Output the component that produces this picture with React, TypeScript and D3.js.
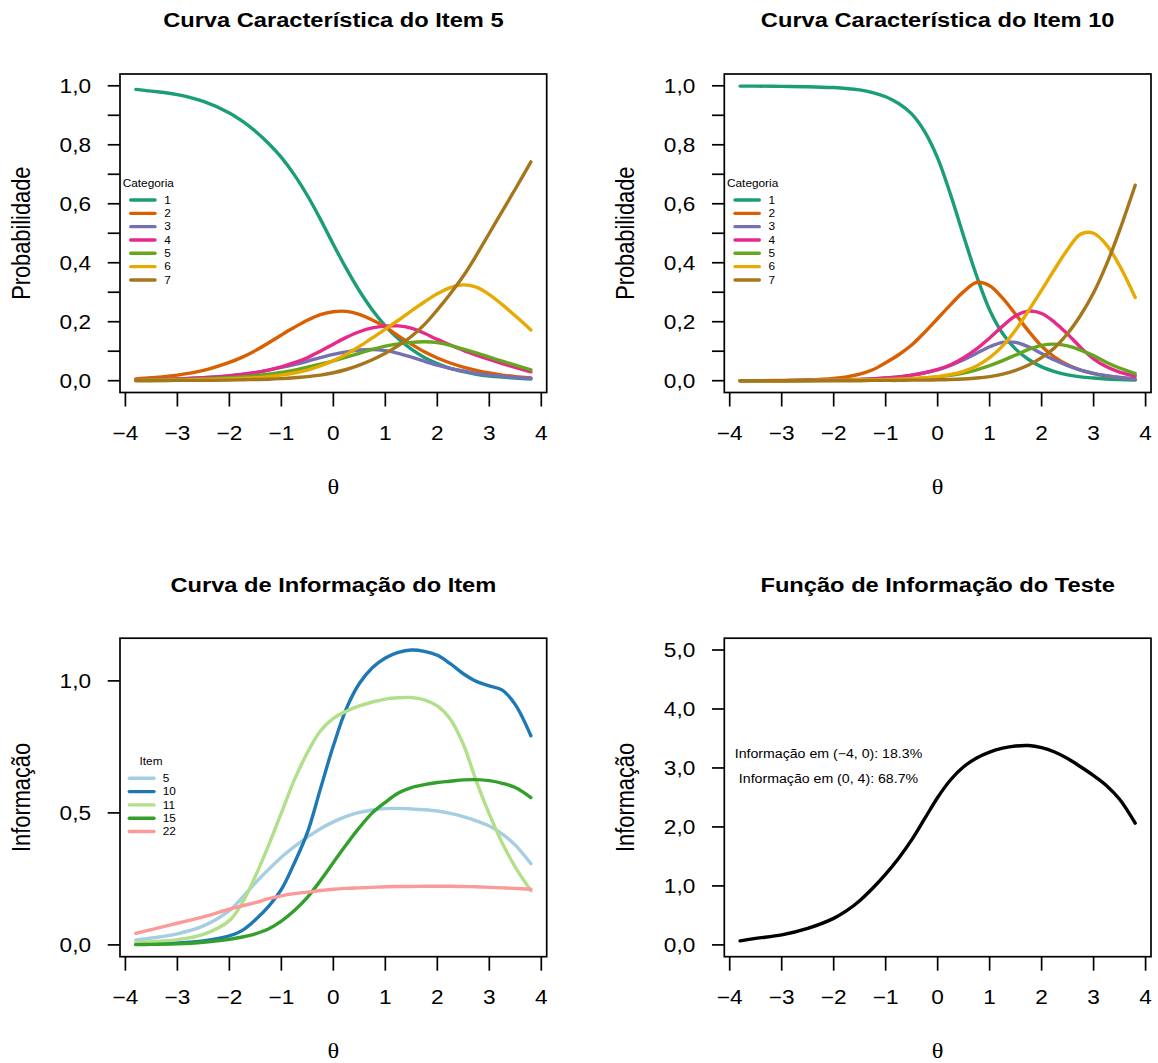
import React from "react";
import * as d3 from "d3";

// the reference is stretched horizontally, text included
const STRETCH = 1.16;
const SANS = "'Liberation Sans', Arial, Helvetica, sans-serif";
const SERIF = "'Liberation Serif', 'DejaVu Serif', serif";

// theta grid used for all read-off values
const theta = [
  -3.8, -3.5, -3, -2.5, -2, -1.75, -1.5, -1.25, -1, -0.75, -0.5, -0.25, 0, 0.25, 0.5, 0.75,
  1, 1.25, 1.5, 1.75, 2, 2.25, 2.5, 2.75, 3, 3.25, 3.5, 3.8,
];

const categories = ["1", "2", "3", "4", "5", "6", "7"];
const dark2 = ["#1B9E77", "#D95F02", "#7570B3", "#E7298A", "#66A61E", "#E6AB02", "#A6761D"];

// item 5, probability of each category
const item5Cat1 = [0.988, 0.982, 0.97, 0.947, 0.908, 0.88, 0.846, 0.805, 0.757, 0.698, 0.628, 0.548, 0.462, 0.38, 0.305, 0.24, 0.186, 0.142, 0.107, 0.079, 0.058, 0.042, 0.031, 0.022, 0.016, 0.012, 0.009, 0.006];
const item5Cat2 = [0.006, 0.01, 0.019, 0.035, 0.062, 0.08, 0.102, 0.128, 0.155, 0.181, 0.205, 0.224, 0.234, 0.235, 0.225, 0.206, 0.182, 0.152, 0.124, 0.098, 0.077, 0.06, 0.046, 0.035, 0.026, 0.019, 0.014, 0.009];
const item5Cat3 = [0.003, 0.004, 0.006, 0.01, 0.017, 0.022, 0.028, 0.036, 0.045, 0.055, 0.066, 0.078, 0.089, 0.098, 0.104, 0.106, 0.102, 0.093, 0.08, 0.066, 0.053, 0.042, 0.033, 0.025, 0.019, 0.015, 0.011, 0.008];
const item5Cat4 = [0.003, 0.004, 0.006, 0.01, 0.016, 0.021, 0.027, 0.036, 0.047, 0.061, 0.078, 0.1, 0.124, 0.147, 0.166, 0.179, 0.185, 0.186, 0.178, 0.161, 0.14, 0.121, 0.103, 0.087, 0.072, 0.058, 0.045, 0.03];
const item5Cat5 = [0.002, 0.003, 0.004, 0.006, 0.01, 0.013, 0.017, 0.022, 0.028, 0.036, 0.046, 0.056, 0.067, 0.08, 0.093, 0.106, 0.117, 0.125, 0.13, 0.132, 0.129, 0.12, 0.107, 0.094, 0.08, 0.066, 0.053, 0.037];
const item5Cat6 = [0.001, 0.001, 0.002, 0.004, 0.006, 0.008, 0.01, 0.014, 0.019, 0.026, 0.036, 0.05, 0.068, 0.09, 0.116, 0.145, 0.175, 0.205, 0.237, 0.267, 0.295, 0.316, 0.325, 0.317, 0.292, 0.258, 0.22, 0.172];
const item5Cat7 = [0.0, 0.0, 0.001, 0.001, 0.002, 0.003, 0.004, 0.005, 0.007, 0.01, 0.014, 0.019, 0.027, 0.038, 0.053, 0.071, 0.093, 0.119, 0.15, 0.19, 0.24, 0.295, 0.355, 0.425, 0.5, 0.575, 0.65, 0.742];

// item 10
const item10Cat1 = [0.999, 0.999, 0.998, 0.997, 0.994, 0.991, 0.986, 0.977, 0.963, 0.94, 0.905, 0.845, 0.755, 0.63, 0.49, 0.355, 0.24, 0.16, 0.107, 0.072, 0.047, 0.031, 0.02, 0.013, 0.009, 0.006, 0.004, 0.002];
const item10Cat2 = [0.0, 0.0, 0.001, 0.003, 0.008, 0.013, 0.022, 0.037, 0.061, 0.088, 0.121, 0.164, 0.211, 0.258, 0.302, 0.333, 0.322, 0.28, 0.225, 0.168, 0.117, 0.08, 0.054, 0.036, 0.024, 0.016, 0.011, 0.006];
const item10Cat3 = [0.0, 0.0, 0.0, 0.001, 0.002, 0.003, 0.004, 0.006, 0.009, 0.013, 0.019, 0.027, 0.037, 0.052, 0.071, 0.093, 0.115, 0.13, 0.13, 0.115, 0.092, 0.07, 0.051, 0.036, 0.025, 0.017, 0.011, 0.006];
const item10Cat4 = [0.0, 0.0, 0.0, 0.001, 0.002, 0.003, 0.004, 0.006, 0.009, 0.013, 0.019, 0.027, 0.038, 0.054, 0.078, 0.108, 0.145, 0.185, 0.22, 0.236, 0.228, 0.198, 0.158, 0.113, 0.074, 0.047, 0.029, 0.016];
const item10Cat5 = [0.0, 0.0, 0.0, 0.0, 0.001, 0.001, 0.002, 0.002, 0.003, 0.004, 0.006, 0.009, 0.013, 0.018, 0.026, 0.037, 0.051, 0.068, 0.087, 0.106, 0.12, 0.124, 0.118, 0.104, 0.085, 0.062, 0.043, 0.024];
const item10Cat6 = [0.0, 0.0, 0.0, 0.001, 0.002, 0.002, 0.003, 0.003, 0.004, 0.005, 0.007, 0.01, 0.014, 0.021, 0.032, 0.05, 0.078, 0.118, 0.172, 0.238, 0.307, 0.378, 0.445, 0.497, 0.5, 0.46, 0.39, 0.282];
const item10Cat7 = [0.0, 0.0, 0.0, 0.0, 0.0, 0.0, 0.0, 0.001, 0.001, 0.001, 0.002, 0.002, 0.003, 0.004, 0.006, 0.009, 0.014, 0.022, 0.035, 0.053, 0.078, 0.112, 0.16, 0.222, 0.298, 0.395, 0.51, 0.663];

const item5Probs = [item5Cat1, item5Cat2, item5Cat3, item5Cat4, item5Cat5, item5Cat6, item5Cat7];
const item10Probs = [item10Cat1, item10Cat2, item10Cat3, item10Cat4, item10Cat5, item10Cat6, item10Cat7];

const infoItems = ["5", "10", "11", "15", "22"];
const paired = ["#A6CEE3", "#1F78B4", "#B2DF8A", "#33A02C", "#FB9A99"];

// item information curves
const info5 = [0.018, 0.026, 0.042, 0.072, 0.13, 0.18, 0.235, 0.285, 0.332, 0.372, 0.408, 0.44, 0.466, 0.487, 0.502, 0.511, 0.516, 0.517, 0.515, 0.512, 0.507, 0.498, 0.486, 0.47, 0.45, 0.42, 0.378, 0.308];
const info10 = [0.003, 0.004, 0.007, 0.015, 0.034, 0.055, 0.095, 0.145, 0.21, 0.31, 0.425, 0.59, 0.754, 0.895, 0.99, 1.05, 1.087, 1.108, 1.117, 1.112, 1.097, 1.065, 1.027, 0.998, 0.981, 0.965, 0.91, 0.792];
const info11 = [0.009, 0.012, 0.02, 0.04, 0.092, 0.16, 0.26, 0.375, 0.5, 0.625, 0.728, 0.81, 0.858, 0.885, 0.905, 0.92, 0.931, 0.936, 0.937, 0.928, 0.905, 0.855, 0.76, 0.62, 0.495, 0.385, 0.295, 0.205];
const info15 = [0.001, 0.002, 0.004, 0.01, 0.021, 0.03, 0.042, 0.06, 0.09, 0.13, 0.18, 0.243, 0.312, 0.38, 0.444, 0.5, 0.54, 0.575, 0.596, 0.607, 0.615, 0.62, 0.625, 0.626, 0.622, 0.612, 0.596, 0.558];
const info22 = [0.044, 0.058, 0.082, 0.106, 0.135, 0.148, 0.16, 0.175, 0.186, 0.194, 0.2, 0.206, 0.211, 0.214, 0.216, 0.218, 0.22, 0.221, 0.221, 0.222, 0.222, 0.222, 0.221, 0.22, 0.218, 0.216, 0.214, 0.211];
const itemInfo = [info5, info10, info11, info15, info22];

// test information
const testInfo = [0.068, 0.11, 0.17, 0.28, 0.45, 0.58, 0.75, 0.96, 1.2, 1.47, 1.78, 2.14, 2.5, 2.8, 3.02, 3.17, 3.27, 3.335, 3.372, 3.38, 3.345, 3.27, 3.16, 3.02, 2.87, 2.7, 2.47, 2.065];

const xTicks = [-4, -3, -2, -1, 0, 1, 2, 3, 4];
const probTicks = [0, 0.1, 0.2, 0.3, 0.4, 0.5, 0.6, 0.7, 0.8, 0.9, 1];
const probLabels = [0, 0.2, 0.4, 0.6, 0.8, 1];
const itemInfoTicks = [0, 0.5, 1];
const testInfoTicks = [0, 1, 2, 3, 4, 5];

const infoNotes = ["Informação em (−4, 0): 18.3%", "Informação em (0, 4): 68.7%"];
const infoNotePos = [
  [-2.1, 3.25],
  [-2.1, 2.82],
];

const commaFmt = (v: number) => d3.format(".1f")(v).replace(".", ",");
const intFmt = d3.format("d");

function SText(props: any) {
  const { x, y, size, anchor = "start", weight = "normal", family = SANS, rotate, dy, children, fill = "#000" } = props;
  const tf = `translate(${x},${y}) scale(${STRETCH},1)` + (rotate ? ` rotate(${rotate})` : "");
  return (
    <text transform={tf} fontSize={size} fontFamily={family} fontWeight={weight} textAnchor={anchor} dy={dy} fill={fill}>
      {children}
    </text>
  );
}

type Series = { xs: number[]; ys: number[]; color: string };

function Panel(props: any) {
  const { box, yMax, title, ylabel, series, yTicks, yLabelTicks, yFmt, legend, notes } = props;
  const pad = yMax * 0.04;
  const x = d3.scaleLinear().domain([-4.104, 4.104]).range([box.x0, box.x1]);
  const y = d3.scaleLinear().domain([-pad, yMax + pad]).range([box.y1, box.y0]);
  const cx = (box.x0 + box.x1) / 2;
  const cy = (box.y0 + box.y1) / 2;
  const line = d3
    .line<[number, number]>()
    .x((d) => x(d[0]))
    .y((d) => y(d[1]))
    .curve(d3.curveCatmullRom.alpha(0.5));

  return (
    <g>
      <SText x={cx} y={box.y0 - 46.7} size={20.4} weight="bold" anchor="middle">
        {title}
      </SText>
      <rect x={box.x0} y={box.y0} width={box.x1 - box.x0} height={box.y1 - box.y0} fill="none" stroke="#000" strokeWidth={1.7} />

      {/* x axis */}
      {xTicks.map((t) => (
        <g key={"x" + t}>
          <line x1={x(t)} x2={x(t)} y1={box.y1} y2={box.y1 + 14} stroke="#000" strokeWidth={1.7} />
          <SText x={x(t)} y={box.y1 + 47.5} size={19.5} anchor="middle">
            {intFmt(t)}
          </SText>
        </g>
      ))}
      <SText x={cx} y={box.y1 + 101} size={21} family={SERIF} anchor="middle">
        θ
      </SText>

      {/* y axis */}
      {yTicks.map((t: number) => (
        <line key={"y" + t} x1={box.x0 - 12.3} x2={box.x0} y1={y(t)} y2={y(t)} stroke="#000" strokeWidth={1.7} />
      ))}
      {yLabelTicks.map((t: number) => (
        <SText key={"yl" + t} x={box.x0 - 29} y={y(t)} dy="0.36em" size={19.5} anchor="end">
          {yFmt(t)}
        </SText>
      ))}
      <SText x={box.x0 - 90.5} y={cy} size={21.8} anchor="middle" rotate={-90}>
        {ylabel}
      </SText>

      {series.map((s: Series, i: number) => (
        <path
          key={"s" + i}
          d={line(s.xs.map((v, j) => [v, s.ys[j]] as [number, number])) || ""}
          fill="none"
          stroke={s.color}
          strokeWidth={3.4}
          strokeLinecap="round"
          strokeLinejoin="round"
        />
      ))}

      {legend && (
        <g>
          <SText x={box.x0 + legend.titleX} y={cy + legend.titleY} size={10.2} anchor={legend.centerTitle ? "middle" : "start"}>
            {legend.title}
          </SText>
          {legend.labels.map((lab: string, i: number) => {
            const ry = cy + legend.rowY + i * 13.33;
            return (
              <g key={"lg" + i}>
                <line
                  x1={box.x0 + legend.lineX0}
                  x2={box.x0 + legend.lineX1}
                  y1={ry}
                  y2={ry}
                  stroke={legend.colors[i]}
                  strokeWidth={3.4}
                  strokeLinecap="round"
                />
                <SText x={box.x0 + legend.textX} y={ry} dy="0.36em" size={10.2}>
                  {lab}
                </SText>
              </g>
            );
          })}
        </g>
      )}

      {notes &&
        notes.labels.map((lab: string, i: number) => (
          <SText key={"n" + i} x={x(notes.pos[i][0])} y={y(notes.pos[i][1])} dy="0.36em" size={12.2} anchor="middle">
            {lab}
          </SText>
        ))}
    </g>
  );
}

const catLegend = (colors: string[]) => ({
  title: "Categoria",
  titleX: 2.7,
  titleY: -46,
  centerTitle: false,
  rowY: -33.25,
  lineX0: 10.7,
  lineX1: 35,
  textX: 44.3,
  labels: categories,
  colors,
});

export default function App() {
  const left = { x0: 120, x1: 546.7 };
  const right = { x0: 724.3, x1: 1151 };
  const top = { y0: 74, y1: 392.5 };
  const bottom = { y0: 638.2, y1: 956.7 };

  const s5 = item5Probs.map((ys, i) => ({ xs: theta, ys, color: dark2[i] }));
  const s10 = item10Probs.map((ys, i) => ({ xs: theta, ys, color: dark2[i] }));
  const sInfo = itemInfo.map((ys, i) => ({ xs: theta, ys, color: paired[i] }));
  const sTest = [{ xs: theta, ys: testInfo, color: "#000" }];

  return (
    <svg width={1158} height={1063} style={{ position: "absolute", left: 0, top: 0, background: "#fff" }}>
      <rect width={1158} height={1063} fill="#fff" />
      <Panel
        box={{ ...left, ...top }}
        yMax={1}
        title="Curva Característica do Item 5"
        ylabel="Probabilidade"
        series={s5}
        yTicks={probTicks}
        yLabelTicks={probLabels}
        yFmt={commaFmt}
        legend={catLegend(dark2)}
      />
      <Panel
        box={{ ...right, ...top }}
        yMax={1}
        title="Curva Característica do Item 10"
        ylabel="Probabilidade"
        series={s10}
        yTicks={probTicks}
        yLabelTicks={probLabels}
        yFmt={commaFmt}
        legend={catLegend(dark2)}
      />
      <Panel
        box={{ ...left, ...bottom }}
        yMax={1.117}
        title="Curva de Informação do Item"
        ylabel="Informação"
        series={sInfo}
        yTicks={itemInfoTicks}
        yLabelTicks={itemInfoTicks}
        yFmt={commaFmt}
        legend={{
          title: "Item",
          titleX: 31,
          titleY: -32.5,
          centerTitle: true,
          rowY: -19.2,
          lineX0: 9.3,
          lineX1: 34,
          textX: 42.7,
          labels: infoItems,
          colors: paired,
        }}
      />
      <Panel
        box={{ ...right, ...bottom }}
        yMax={5}
        title="Função de Informação do Teste"
        ylabel="Informação"
        series={sTest}
        yTicks={testInfoTicks}
        yLabelTicks={testInfoTicks}
        yFmt={commaFmt}
        notes={{ labels: infoNotes, pos: infoNotePos }}
      />
    </svg>
  );
}
